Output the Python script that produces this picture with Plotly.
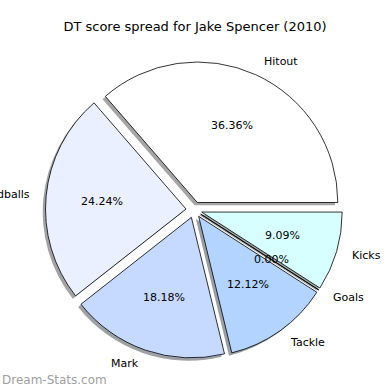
import math
import plotly.graph_objects as go

labels = ["Hitout", "Handballs", "Mark", "Tackle", "Goals", "Kicks"]
values = [36.36, 24.24, 18.18, 12.12, 0.0, 9.09]
colors = ["#FFFFFF", "#EAF0FF", "#C6D9FF", "#B2D4FF", "#C0E0FF", "#D8FFFF"]
explode = [0.057] * 6
title = "DT score spread for Jake Spencer (2010)"
watermark = "Dream-Stats.com"

W = H = 390
CX, CY = 194.0, 209.8      # pie centre, px
R = 140.5                   # pie radius, px
SH = 2.8                    # shadow offset, px

def shade(c):
    c = c.lstrip("#")
    r, g, b = (int(c[i:i + 2], 16) for i in (0, 2, 4))
    return "rgba(%d,%d,%d,0.5)" % (r * 0.3, g * 0.3, b * 0.3)

half = R * (1 + max(explode))
total = sum(values)
# plotly counterclockwise: first slice ends at `rotation` (clockwise from 12 o'clock)
rot = 90 - values[0] / total * 360

def dom(cx, cy):
    return dict(x=[(cx - half) / W, (cx + half) / W],
                y=[(H - cy - half) / H, (H - cy + half) / H])

common = dict(labels=labels, values=values, sort=False, direction="counterclockwise",
              rotation=rot, pull=explode, textinfo="none", hoverinfo="label+percent",
              showlegend=False)

fig = go.Figure()
fig.add_trace(go.Pie(**common, domain=dom(CX - SH, CY + SH),
                     marker=dict(colors=[shade(c) for c in colors], line=dict(width=0))))
fig.add_trace(go.Pie(**common, domain=dom(CX, CY),
                     marker=dict(colors=colors, line=dict(color="black", width=0.8))))

ann = []
start = 0.0
for lab, v, e in zip(labels, values, explode):
    ang = start + v / total * 360 / 2
    start += v / total * 360
    t = math.radians(ang)
    ox = CX + e * R * math.cos(t)
    oy = CY - e * R * math.sin(t)
    px = ox + 0.6 * R * math.cos(t)
    py = oy - 0.6 * R * math.sin(t)
    lx = ox + 1.1 * R * math.cos(t)
    ly = oy - 1.1 * R * math.sin(t)
    ann.append(dict(x=px / W, y=(H - py) / H, xref="paper", yref="paper",
                    text="%.2f%%" % (v / total * 100), showarrow=False,
                    xanchor="center", yanchor="middle",
                    font=dict(family="DejaVu Sans", size=11, color="black")))
    ann.append(dict(x=lx / W, y=(H - ly) / H, xref="paper", yref="paper",
                    text=lab, showarrow=False,
                    xanchor="left" if math.cos(t) > 0 else "right", yanchor="middle",
                    font=dict(family="DejaVu Sans", size=11, color="black")))

ann.append(dict(x=0, y=(H - 380) / H, xref="paper", yref="paper", text=watermark,
                showarrow=False, xanchor="left", yanchor="middle",
                font=dict(family="DejaVu Sans", size=12, color="#a0a0a0")))

fig.update_layout(width=W, height=H, margin=dict(l=0, r=0, t=0, b=0),
                  paper_bgcolor="white", plot_bgcolor="white",
                  title=dict(text=title, x=0.5, xanchor="center", y=(H - 26) / H,
                             yanchor="middle",
                             font=dict(family="DejaVu Sans", size=13, color="black")),
                  annotations=ann)
fig.write_html("out.html")
